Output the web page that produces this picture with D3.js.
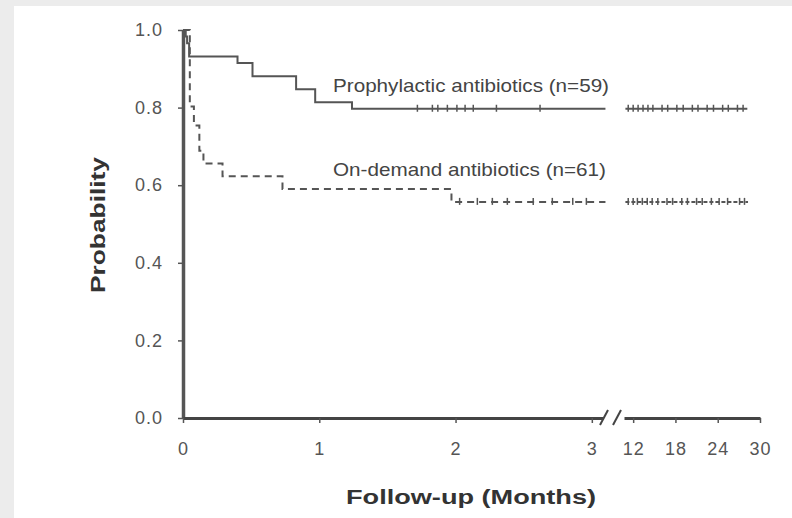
<!DOCTYPE html>
<html>
<head>
<meta charset="utf-8">
<script src="https://cdn.jsdelivr.net/npm/d3@7"></script>
<style>
  body { margin: 0; background: #ececec; }
  svg { display: block; }
</style>
</head>
<body>
<div class="chart"></div>
<script>
// Kaplan-Meier steps (months, probability)
const prophTimes = [0, 0.02, 0.03, 0.045, 0.40, 0.51, 0.83, 0.97, 1.24]
const prophSurv = [1.0, 0.983, 0.966, 0.932, 0.915, 0.881, 0.847, 0.814, 0.797]
const demandTimes = [0, 0.05, 0.08, 0.12, 0.15, 0.29, 0.73, 1.97]
const demandSurv = [1.0, 0.803, 0.754, 0.689, 0.656, 0.623, 0.590, 0.557]

// censored observations
const prophCensorLeft = [1.72, 1.83, 1.87, 1.94, 2.01, 2.07, 2.13, 2.30, 2.62]
const prophCensorRight = [11.3, 12.0, 12.7, 13.4, 14.1, 14.8, 16.1, 16.9, 18.2, 19.1, 20.4, 21.2, 22.5, 23.4, 24.7, 25.5, 26.8, 27.6]
const demandCensorLeft = [2.03, 2.16, 2.27, 2.38, 2.57, 2.71, 2.86, 2.96]
const demandCensorRight = [11.3, 12.0, 12.6, 13.3, 14.0, 14.7, 15.5, 16.8, 17.6, 18.9, 19.7, 21.0, 21.8, 23.1, 24.2, 25.4, 27.1, 27.8]

const leftEnd = 3.1
const rightStart = 10.9
const rightEnd = 28.2

const yTicks = [0, 0.2, 0.4, 0.6, 0.8, 1.0]
const xTicksLeft = [0, 1, 2, 3]
const xTicksRight = [12, 18, 24, 30]

const labels = ["Prophylactic antibiotics (n=59)", "On-demand antibiotics (n=61)"]

const width = 792, height = 518

const svg = d3.select(".chart").append("svg")
	.attr("width", width)
	.attr("height", height)

// page card
svg.append("rect").attr("width", width).attr("height", height).attr("fill", "#ececec")
svg.append("rect").attr("x", 14).attr("y", 6).attr("width", width - 14).attr("height", height - 6).attr("fill", "#ffffff")

const y = d3.scaleLinear().domain([0, 1]).range([418, 30])
const xL = d3.scaleLinear().domain([0, 3.082]).range([183, 603])
const xR = d3.scaleLinear().domain([10.7, 30]).range([624, 760])

const lineColor = "#555"

// y axis
const yAxis = svg.append("g")
	.attr("transform", "translate(183,0)")
	.call(d3.axisLeft(y).tickValues(yTicks).tickFormat(d3.format(".1f")).tickSize(5).tickSizeOuter(0).tickPadding(15))
yAxis.select(".domain").attr("stroke", "#555").attr("stroke-width", 3.5)

// x axis, broken in two parts
const xAxisL = svg.append("g")
	.attr("transform", "translate(0,418)")
	.call(d3.axisBottom(xL).tickValues(xTicksLeft).tickFormat(d3.format("d")).tickSize(5).tickSizeOuter(0).tickPadding(19))
const xAxisR = svg.append("g")
	.attr("transform", "translate(0,418)")
	.call(d3.axisBottom(xR).tickValues(xTicksRight).tickFormat(d3.format("d")).tickSize(5).tickSizeOuter(0).tickPadding(19))

svg.selectAll(".tick line").attr("stroke", "#555").attr("stroke-width", 1.5)
svg.selectAll(".tick text")
	.attr("fill", "#555")
	.style("font-family", "Liberation Sans, Arial, sans-serif")
	.style("font-size", "18px")
	.style("letter-spacing", "1px")
xAxisL.select(".domain").attr("stroke", "#444").attr("stroke-width", 3)
xAxisR.select(".domain").attr("stroke", "#444").attr("stroke-width", 3)

// axis break marks
;[604, 617].forEach(function (bx) {
	svg.append("line")
		.attr("x1", bx - 4).attr("y1", 425)
		.attr("x2", bx + 4).attr("y2", 410)
		.attr("stroke", "#444").attr("stroke-width", 2)
})

// survival curves
function stepPath(times, surv) {
	const pts = times.map((t, i) => [xL(t), y(surv[i])])
	pts.push([xL(leftEnd), y(surv[surv.length - 1])])
	return d3.line().curve(d3.curveStepAfter)(pts)
}

const curves = [
	{ times: prophTimes, surv: prophSurv, cl: prophCensorLeft, cr: prophCensorRight, dash: null, end: rightEnd },
	{ times: demandTimes, surv: demandSurv, cl: demandCensorLeft, cr: demandCensorRight, dash: "7,5", end: rightEnd + 0.1 }
]

curves.forEach(function (c) {
	const last = c.surv[c.surv.length - 1]
	svg.append("path")
		.attr("d", stepPath(c.times, c.surv))
		.attr("fill", "none")
		.attr("stroke", lineColor)
		.attr("stroke-width", 2)
		.attr("stroke-dasharray", c.dash)
	svg.append("line")
		.attr("x1", xR(rightStart)).attr("x2", xR(c.end))
		.attr("y1", y(last)).attr("y2", y(last))
		.attr("stroke", lineColor)
		.attr("stroke-width", 2)
		.attr("stroke-dasharray", c.dash ? "4,2" : null)
	const cens = c.cl.map(t => xL(t)).concat(c.cr.map(t => xR(t)))
	svg.selectAll(null)
		.data(cens)
		.join("line")
		.attr("x1", d => d).attr("x2", d => d)
		.attr("y1", y(last) - 4).attr("y2", y(last) + 3)
		.attr("stroke", lineColor)
		.attr("stroke-width", 1.5)
})

// curve labels
const labelY = [92, 176]
svg.selectAll(null)
	.data(labels)
	.join("text")
	.attr("x", 333)
	.attr("y", (d, i) => labelY[i])
	.attr("textLength", (d, i) => i == 0 ? 276 : 273)
	.attr("lengthAdjust", "spacingAndGlyphs")
	.attr("fill", "#444")
	.style("font-family", "Liberation Sans, Arial, sans-serif")
	.style("font-size", "19px")
	.text(d => d)

// axis titles
svg.append("text")
	.attr("x", 471)
	.attr("y", 504)
	.attr("text-anchor", "middle")
	.attr("textLength", 250)
	.attr("lengthAdjust", "spacingAndGlyphs")
	.attr("fill", "#333")
	.style("font-family", "Liberation Sans, Arial, sans-serif")
	.style("font-size", "20px")
	.style("font-weight", "bold")
	.text("Follow-up (Months)")

svg.append("text")
	.attr("transform", "translate(105,225) rotate(-90)")
	.attr("text-anchor", "middle")
	.attr("textLength", 136)
	.attr("lengthAdjust", "spacingAndGlyphs")
	.attr("fill", "#333")
	.style("font-family", "Liberation Sans, Arial, sans-serif")
	.style("font-size", "20px")
	.style("font-weight", "bold")
	.text("Probability")
</script>
</body>
</html>
